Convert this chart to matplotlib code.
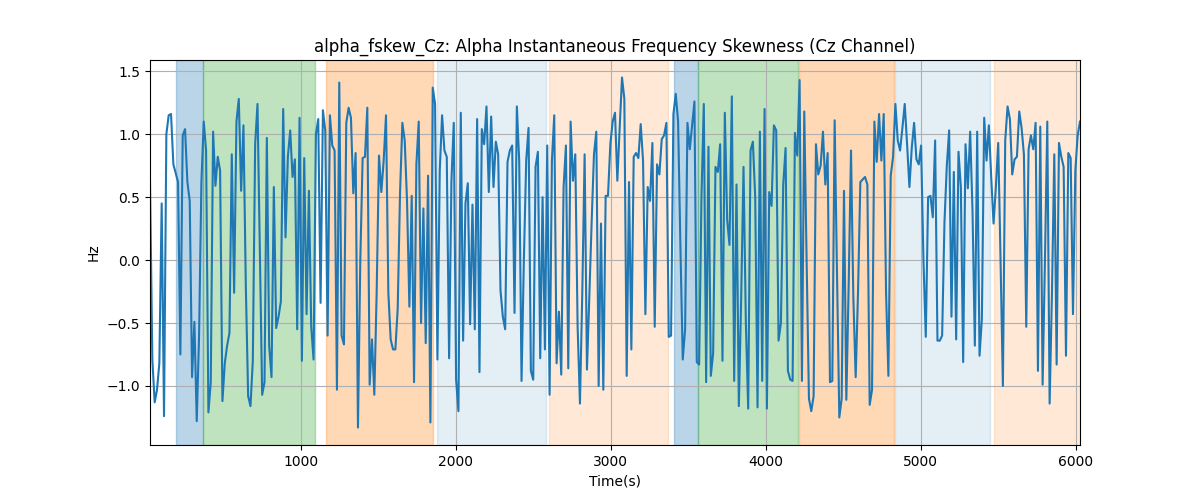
import numpy as np
import matplotlib.pyplot as plt

skew_hz = [
    0.62, -0.79, -1.13, -1.03, -0.82, 0.45, -1.24, 1.0, 1.15, 1.16, 0.76, 0.69, 0.62, -0.75, 0.99, 1.04, 0.62, 0.47, -0.93,
    -0.49, -1.28, -0.6, 0.62, 1.1, 0.87, -1.21, -0.97, 1.02, 0.59, 0.82, 0.71, -1.12, -0.82, -0.68, -0.58, 0.84, -0.26, 1.1,
    1.28, 0.55, 1.07, -0.2, -1.08, -1.16, -0.8, 0.92, 1.24, 0.1, -1.07, -0.97, 0.97, -0.68, -0.93, 0.58, -0.54, -0.45, -0.33,
    1.2, 0.18, 0.82, 1.03, 0.66, 0.8, -0.55, 1.13, -0.8, 0.81, -0.43, 0.55, -0.53, -0.79, 1.0, 1.12, -0.34, 1.19, 1.03, -0.6,
    1.15, 0.91, 0.87, -1.03, 1.41, -0.6, -0.67, 1.09, 1.21, 1.13, 0.53, 0.85, -1.33, 0.0, 0.81, 0.82, 1.21, -0.99, -0.63,
    -1.07, -0.26, 0.83, 0.54, 0.79, 1.15, -0.26, -0.63, -0.71, -0.71, -0.39, 0.53, 1.09, 0.95, 0.47, -0.37, 0.51, -0.97,
    0.76, 1.1, -0.5, 0.41, -0.66, 0.67, -1.29, 1.37, 1.24, -0.79, 0.71, 1.15, 0.87, 0.82, -0.78, 0.63, 1.09, -0.95, -1.2,
    1.17, -0.64, 0.45, 0.61, -0.51, 0.44, -0.55, 1.12, -0.89, 1.04, 0.92, 1.22, 0.54, 1.14, 0.58, 0.94, 0.84, -0.24, -0.45,
    -0.55, 0.78, 0.87, 0.91, -0.42, 1.22, 0.79, -0.96, 0.0, 0.79, 1.05, -0.88, -0.95, 0.74, 0.86, -0.78, 0.5, -0.71,
    0.91, -1.07, 0.79, 1.15, -0.82, -0.41, -0.91, 0.58, 0.91, -0.86, 1.1, 0.63, 0.84, -0.53, -1.14, -0.26, 0.84, -0.87,
    -0.3, 0.3, 0.84, 1.02, -1.0, 0.29, -1.03, 0.51, 0.51, 0.92, 1.1, 1.17, 0.63, 1.05, 1.45, 1.28, -0.92, 0.62, -0.71, 0.82,
    0.85, 0.81, 1.08, 0.79, -0.43, 0.58, 0.47, 0.93, -0.53, 0.76, 0.68, 0.96, 0.99, 1.09, -0.61, -0.6, 1.16, 1.32,
    1.1, 0.1, -0.79, -0.55, 1.09, 0.88, 1.07, 1.26, -0.81, -0.83, 0.5, 1.24, -0.97, 0.9, -0.92, -0.74, 0.74, 0.7, 0.92,
    -0.8, 1.17, 0.32, 0.12, 1.3, -0.96, 0.6, -1.16, -0.3, 0.74, -0.5, -1.18, 0.87, 0.94, 0.5, -1.17, 1.02, -0.96, 1.2, -1.18,
    0.54, 0.43, 1.07, 1.03, -0.64, -0.5, 0.6, 0.89, -0.88, -0.95, -0.96, 1.01, 0.83, 1.43, -0.96, 1.18, 0.0, -1.1,
    -1.2, -1.08, 0.92, 0.68, 0.75, 1.02, 0.6, 0.85, -0.97, -0.96, 1.11, -0.1, -1.25, -1.1, 0.55, -1.11, -0.2, 0.87, -0.3,
    -0.93, -0.26, 0.62, 0.64, 0.66, 0.6, -1.15, -1.03, 1.1, 0.78, 1.16, 0.79, 1.16, -0.26, -0.92, 0.67, 0.82, 1.24, 0.95,
    0.87, 1.05, 1.24, 0.92, 0.58, 0.89, 1.09, 0.8, 0.76, 0.91, 0.0, -0.61, 0.5, 0.51, 0.34, 0.95, -0.64, -0.64, -0.6,
    0.3, 0.75, 1.03, -0.45, 0.70, -0.63, 0.86, 0.58, -0.81, 0.92, 0.57, 1.02, 0.39, -0.68, 1.02, -0.76, -0.47, 1.13, 0.79,
    1.07, 0.66, 0.29, 0.58, 0.93, 0.0, -1.0, 0.95, 1.22, 1.12, 0.68, 0.80, 0.82, 1.18, 1.05, 0.84, -0.53, 0.88, 0.99, 0.88,
    1.09, -0.88, 1.06, -0.99, 0.0, 1.1, -1.14, -0.26, 0.84, -0.83, 0.93, 0.82, 0.74, -0.76, 0.85, 0.81, -0.43, 0.71, 0.99,
    1.1,
]
t_first = 28
t_last = 6026

# shaded segments (s) and their kind
seg_start = [198, 373, 1160, 1880, 2603, 3406, 3562, 4215, 4835, 5469]
seg_end = [373, 1090, 1854, 2585, 3368, 3562, 4209, 4829, 5443, 6040]
seg_kind = ['a', 'b', 'c', 'd', 'e', 'a', 'b', 'c', 'd', 'e']

SEG_STYLE = {
    'a': ('C0', 0.3),
    'b': ('C2', 0.3),
    'c': ('C1', 0.3),
    'd': ('C0', 0.12),
    'e': ('C1', 0.17),
}

time_s = np.linspace(t_first, t_last, len(skew_hz))

plt.figure(figsize=(12, 5))
for s, e, k in zip(seg_start, seg_end, seg_kind):
    color, alpha = SEG_STYLE[k]
    plt.axvspan(s, e, color=color, alpha=alpha)
plt.plot(time_s, skew_hz, color='C0')
plt.xlim(time_s[0], time_s[-1])
plt.title('alpha_fskew_Cz: Alpha Instantaneous Frequency Skewness (Cz Channel)')
plt.xlabel('Time(s)')
plt.ylabel('Hz')
plt.grid(True)
plt.savefig('out.png')
